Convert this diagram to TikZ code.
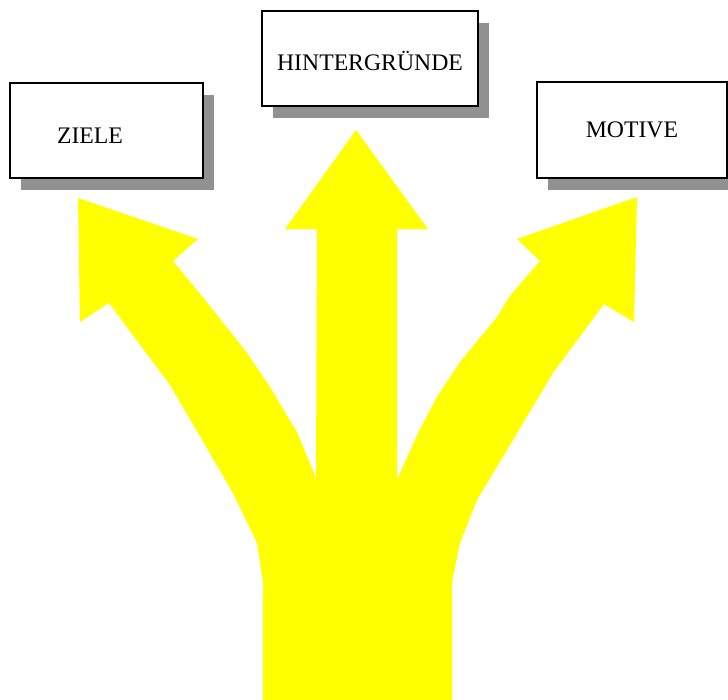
\documentclass[tikz,border=0pt]{standalone}
\usepackage{fontspec}
\setmainfont{Liberation Serif}
\usetikzlibrary{shadows}
\definecolor{shadowgray}{RGB}{145,145,145}
\definecolor{arrowyellow}{RGB}{255,255,0}
\tikzset{
  labelbox/.style={draw, line width=0.8pt, fill=white,
    font=\fontsize{13.5}{16}\selectfont,
    drop shadow={shadow xshift=0.22cm, shadow yshift=-0.24cm,
      fill=shadowgray, opacity=1}}
}
\begin{document}
\begin{tikzpicture}[x=0.02cm, y=-0.02cm]
\useasboundingbox (0,0) rectangle (728,700);
% the three-way arrow, one filled outline
\fill[arrowyellow] (263,700) -- (263,582) -- (257,543) -- (233,493) -- (201,438)
  -- (170,385) -- (109,303) -- (80,322) -- (78,198) -- (198,239) -- (173,261)
  -- (197,290) -- (233,335) -- (247,353) -- (270,387) -- (297,432) -- (316,478)
  -- (317,229) -- (285,229) -- (356,130) -- (428,229) -- (397,229) -- (397,480)
  -- (418,433) -- (438,395) -- (460,362) -- (497,317) -- (509,297) -- (540,261)
  -- (517,239) -- (637,197) -- (634,322) -- (604,304) -- (553,373) -- (513,440)
  -- (477,500) -- (460,543) -- (452,582) -- (452,700) -- cycle;
% boxes
\node[labelbox, text width=1.98cm, inner xsep=0.94cm, minimum height=1.9cm,
  text height=0.5cm, text depth=0pt, align=left]
  (ziele) at (106.5,130.5) {ZIELE};
\node[labelbox, minimum width=4.32cm, minimum height=1.9cm,
  text height=0.5cm, text depth=0pt]
  (hintergruende) at (370,58.5) {HINTERGRÜNDE};
\node[labelbox, minimum width=3.8cm, minimum height=1.92cm]
  (motive) at (632,130) {MOTIVE};
\end{tikzpicture}
\end{document}
